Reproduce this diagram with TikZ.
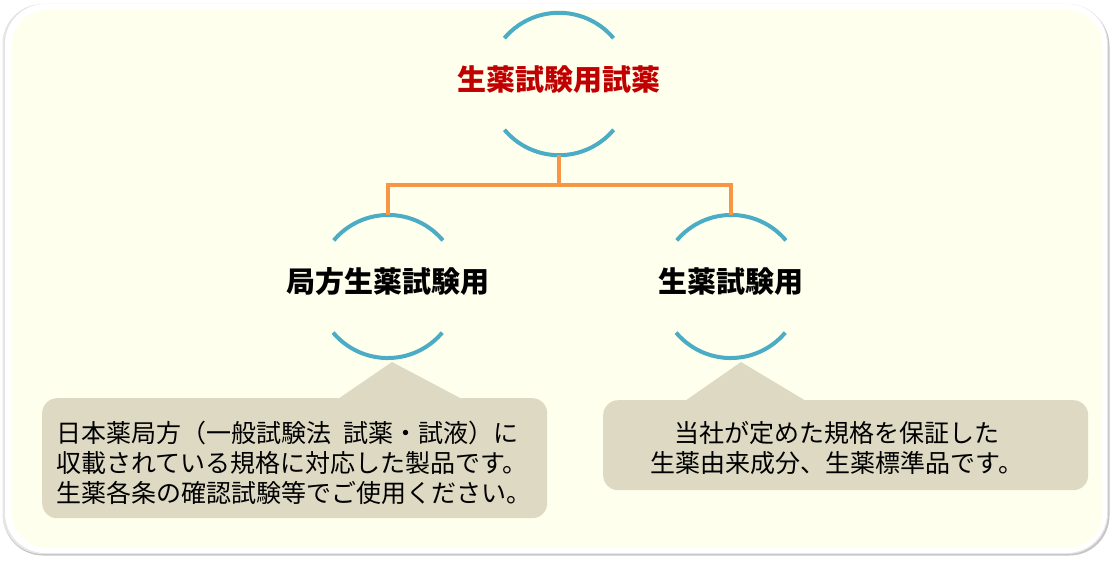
\documentclass[tikz,border=0pt]{standalone}
\usepackage{fontspec}
\newfontfamily\jp{Noto Sans CJK JP}
\definecolor{cream}{RGB}{255,255,237}
\definecolor{tanbox}{RGB}{221,217,195}
\definecolor{arcblue}{RGB}{75,172,198}
\definecolor{connorange}{RGB}{247,150,70}
\definecolor{titlered}{RGB}{192,0,0}
\tikzset{
  ring/.style={circle, minimum size=#1, inner sep=0pt, draw=none},
  arcline/.style={draw=arcblue, line width=4pt},
  conn/.style={draw=connorange, line width=4pt},
  titletext/.style={font=\jp\bfseries\fontsize{29}{34}\selectfont, inner sep=0pt},
  calloutbox/.style={fill=tanbox, rounded corners=15pt, inner sep=0pt, draw=none},
  callouttext/.style={font=\jp\fontsize{25}{30}\selectfont, inner sep=0pt, text=black},
}
\begin{document}
\begin{tikzpicture}[x=1pt,y=1pt]
\useasboundingbox (0,0) rectangle (1114,-564);
\fill[white] (0,0) rectangle (1114,-564);
% panel
\fill[gray!45, rounded corners=40pt] (3,-6) rectangle (1109.5,-555.5);
\fill[gray!20, rounded corners=40pt] (2.5,-4) rectangle (1108,-554);
\fill[white, rounded corners=40pt] (5,-4) rectangle (1107,-553);
\fill[cream, rounded corners=35pt] (12,-10) rectangle (1102,-548);

% ring nodes
\node[ring=142pt] (rootc) at (559,-84) {};
\node[ring=143pt] (leftc) at (388,-286.5) {};
\node[ring=143pt] (rightc) at (731,-286.5) {};

\foreach \n in {rootc,leftc,rightc}{
  \draw[arcline] (\n.40) arc (40:140:71.25pt);
  \draw[arcline] (\n.220) arc (220:320:71.25pt);
}

\node[titletext, text=titlered] (root) at (559,-80) {生薬試験用試薬};
\node[titletext] (left) at (388,-282) {局方生薬試験用};
\node[titletext] (right) at (731,-282) {生薬試験用};

% connectors
\coordinate (bus) at (559,-185);
\draw[conn] (rootc.south) -- (bus);
\draw[conn] (bus) -| (leftc.north);
\draw[conn] (bus) -| (rightc.north);

% callouts
\node[calloutbox, minimum width=505pt, minimum height=120pt, anchor=north west] (lbox) at (42,-398) {};
\fill[tanbox] (392,-362) -- (338,-399) -- (462,-399) -- cycle;
\node[calloutbox, minimum width=485pt, minimum height=90pt, anchor=north west] (rbox) at (603,-400) {};
\fill[tanbox] (741,-362) -- (685,-401) -- (806,-401) -- cycle;

\node[callouttext, align=left, anchor=west] (ltext) at (56,-463) {日本薬局方（一般試験法\hspace{0.5em}試薬・試液）に\\収載されている規格に対応した製品です。\\生薬各条の確認試験等でご使用ください。};
\node[callouttext, align=center] (rtext) at (837,-448) {当社が定めた規格を保証した\\生薬由来成分、生薬標準品です。};
\end{tikzpicture}
\end{document}
